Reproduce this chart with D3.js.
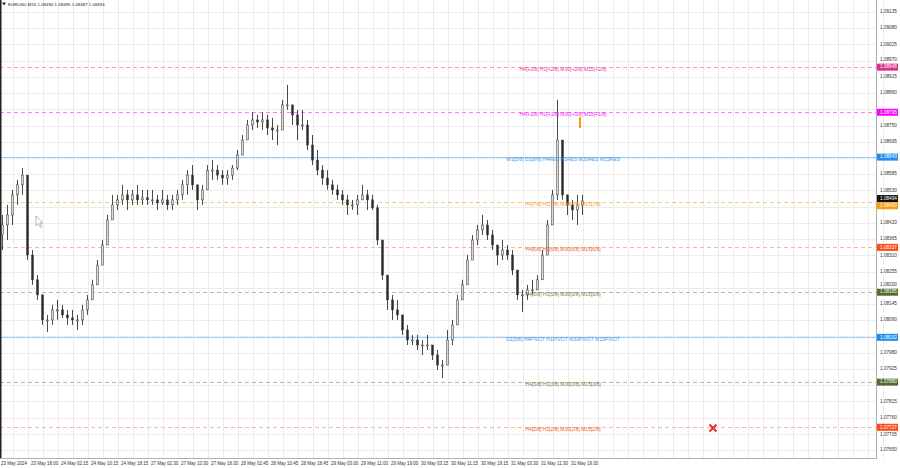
<!DOCTYPE html>
<html><head><meta charset="utf-8">
<script src="https://cdn.jsdelivr.net/npm/d3@7"></script>
<style>
html,body{margin:0;padding:0;background:#fff;}
svg{display:block;font-family:"Liberation Sans",Arial,sans-serif;}
</style></head><body>
<svg id="c" width="900" height="468"></svg>
<script>
// ---------------- data ----------------
const symbolTitle = "EURUSD,M15";
const ohlcNow = ["1.08490", "1.08495", "1.08487", "1.08494"];
const currentPrice = 1.08494;
const firstOpen = 1.08380;

const highs = [1.08447,1.08481,1.08532,1.08566,1.08606,1.08582,1.08328,1.08243,1.08176,1.08108,
1.08142,1.08159,1.08142,1.08125,1.08125,1.08108,1.08142,1.08176,1.08227,1.08294,
1.08362,1.08447,1.08515,1.08515,1.08549,1.08532,1.08532,1.08549,1.08532,1.08532,
1.08532,1.08515,1.08532,1.08515,1.08515,1.08532,1.08566,1.08599,1.08616,1.08549,
1.08549,1.08616,1.08633,1.08616,1.08599,1.08599,1.08616,1.08667,1.08718,1.08769,
1.08796,1.08786,1.08796,1.08786,1.08776,1.08752,1.08837,1.08888,1.08820,1.08803,
1.08803,1.08769,1.08718,1.08667,1.08616,1.08599,1.08566,1.08549,1.08532,1.08515,
1.08498,1.08515,1.08549,1.08532,1.08515,1.08481,1.08362,1.08243,1.08176,1.08159,
1.08108,1.08074,1.08040,1.08040,1.08023,1.08040,1.08006,1.07989,1.07955,1.08057,
1.08091,1.08176,1.08227,1.08311,1.08379,1.08413,1.08447,1.08430,1.08396,1.08345,
1.08362,1.08345,1.08328,1.08260,1.08193,1.08210,1.08227,1.08243,1.08328,1.08430,
1.08532,1.08837,1.08701,1.08515,1.08498,1.08515,1.08515];

const lows = [1.08328,1.08362,1.08413,1.08481,1.08515,1.08294,1.08210,1.08159,1.08074,1.08050,
1.08074,1.08091,1.08098,1.08074,1.08074,1.08057,1.08074,1.08108,1.08159,1.08210,
1.08277,1.08345,1.08430,1.08464,1.08481,1.08464,1.08481,1.08481,1.08481,1.08481,
1.08481,1.08464,1.08481,1.08464,1.08464,1.08481,1.08498,1.08515,1.08532,1.08464,
1.08481,1.08532,1.08566,1.08566,1.08549,1.08549,1.08566,1.08599,1.08650,1.08701,
1.08735,1.08742,1.08735,1.08718,1.08701,1.08684,1.08735,1.08803,1.08752,1.08701,
1.08735,1.08667,1.08616,1.08582,1.08549,1.08532,1.08515,1.08498,1.08481,1.08447,
1.08464,1.08447,1.08498,1.08464,1.08464,1.08345,1.08227,1.08125,1.08091,1.08091,
1.08040,1.08006,1.08006,1.07989,1.07972,1.07989,1.07955,1.07921,1.07894,1.07938,
1.08006,1.08074,1.08159,1.08210,1.08294,1.08345,1.08379,1.08362,1.08328,1.08277,
1.08294,1.08294,1.08243,1.08159,1.08118,1.08159,1.08176,1.08193,1.08227,1.08311,
1.08413,1.08498,1.08498,1.08447,1.08430,1.08413,1.08447];

const closes = [1.08413,1.08447,1.08515,1.08549,1.08582,1.08311,1.08227,1.08176,1.08091,1.08091,
1.08125,1.08125,1.08108,1.08098,1.08091,1.08091,1.08125,1.08159,1.08210,1.08277,
1.08345,1.08430,1.08481,1.08498,1.08515,1.08498,1.08515,1.08498,1.08505,1.08498,
1.08498,1.08488,1.08498,1.08481,1.08498,1.08515,1.08549,1.08582,1.08549,1.08498,
1.08532,1.08599,1.08599,1.08582,1.08572,1.08582,1.08606,1.08650,1.08701,1.08752,
1.08769,1.08762,1.08769,1.08742,1.08735,1.08735,1.08820,1.08820,1.08786,1.08752,
1.08752,1.08684,1.08633,1.08599,1.08572,1.08549,1.08532,1.08515,1.08498,1.08481,
1.08481,1.08498,1.08515,1.08498,1.08471,1.08362,1.08243,1.08159,1.08125,1.08108,
1.08057,1.08023,1.08023,1.08006,1.08006,1.08006,1.07972,1.07938,1.07938,1.08023,
1.08074,1.08159,1.08210,1.08294,1.08362,1.08396,1.08413,1.08379,1.08345,1.08311,
1.08328,1.08311,1.08260,1.08176,1.08176,1.08193,1.08193,1.08227,1.08311,1.08413,
1.08515,1.08701,1.08515,1.08481,1.08464,1.08481,1.08494];

const timeLabels = ["23 May 2024","23 May 18:00","24 May 02:15","24 May 10:15","24 May 18:15",
"27 May 02:30","27 May 10:30","27 May 18:30","28 May 02:45","28 May 10:45","28 May 18:45",
"29 May 03:00","29 May 11:00","29 May 19:00","30 May 03:15","30 May 11:15","30 May 19:15",
"31 May 03:30","31 May 11:30","31 May 19:30"];

const priceTicks = [1.09135,1.09080,1.09025,1.08970,1.08915,1.08860,1.08805,1.08750,1.08695,1.08640,
1.08585,1.08530,1.08475,1.08420,1.08365,1.08310,1.08255,1.08200,1.08145,1.08090,1.08035,
1.07980,1.07925,1.07870,1.07815,1.07760,1.07705,1.07650];

const levelValues = [1.08948,1.08795,1.08643,1.08490,1.08337,1.08185,1.08032,1.07880,1.07727];
const levelTexts = ["H4[+2/8] H1[+2/8] M30[+2/8] M15[+2/8]",
"H4[+1/8] H1[+1/8] M30[+1/8] M15[+1/8]",
"W1[5/8] D1[8/8] H4RES H1RES M30RES M15RES",
"H4[7/8] H1[7/8] M30[7/8] M15[7/8]",
"H4[6/8] H1[6/8] M30[6/8] M15[6/8]",
"H4[5/8] H1[5/8] M30[5/8] M15[5/8]",
"D1[5/8] H4PIVOT H1PIVOT M30PIVOT M15PIVOT",
"H4[3/8] H1[3/8] M30[3/8] M15[3/8]",
"H4[2/8] H1[2/8] M30[2/8] M15[2/8]"];

// styles (separate from data)
const levelStyles = [
 {line:"#f59bd0", dash:"4,3", text:"#e0409a", box:"#d9308c"},
 {line:"#ff7cff", dash:"4,3", text:"#f020f0", box:"#ff00ff"},
 {line:"#9fcdfb", dash:null,  text:"#3d9bf0", box:"#1e8ff0"},
 {line:"#ffc878", dash:"4,3", text:"#f0a030", box:"#ff9a10"},
 {line:"#ffb49c", dash:"4,3", text:"#f05a28", box:"#ff4a14"},
 {line:"#b4bca4", dash:"4,3", text:"#6b7f45", box:"#56692f"},
 {line:"#9fcdfb", dash:null,  text:"#3d9bf0", box:"#1e8ff0"},
 {line:"#b4bca4", dash:"4,3", text:"#6b7f45", box:"#56692f"},
 {line:"#ffb49c", dash:"4,3", text:"#f05a28", box:"#ff4a14"}
];

// ---------------- drawing ----------------
const svg = d3.select("#c");
const axisX = 876, axisY = 458;
const y = d3.scaleLinear().domain([1.07650, 1.09135]).range([450, 12]);
const x = d3.scaleLinear().domain([0, 1]).range([2, 7]);

// grid
const grid = svg.append("g");
grid.selectAll("line.h").data(priceTicks).join("line")
  .attr("x1", 0).attr("x2", axisX).attr("y1", d => Math.round(y(d)) + 0.5).attr("y2", d => Math.round(y(d)) + 0.5)
  .attr("stroke", "#ececec").attr("stroke-width", 1);
grid.selectAll("line.v").data(d3.range(0, 59)).join("line")
  .attr("x1", k => 13.5 + 15 * k).attr("x2", k => 13.5 + 15 * k)
  .attr("y1", 0).attr("y2", axisY)
  .attr("stroke", "#ececec").attr("stroke-width", 1);

// level lines
const lv = svg.append("g");
levelValues.forEach((v, i) => {
  const yy = Math.round(y(v)) + 0.5, st = levelStyles[i];
  lv.append("line").attr("x1", 0).attr("x2", axisX).attr("y1", yy).attr("y2", yy)
    .attr("stroke", st.line).attr("stroke-width", 1)
    .attr("stroke-dasharray", st.dash);
});

// candles
const opens = closes.map((c, i) => i === 0 ? firstOpen : closes[i - 1]);
const cg = svg.append("g");
highs.forEach((h, i) => {
  const cx = Math.round(x(i)) + 0.5;
  cg.append("line").attr("x1", cx).attr("x2", cx)
    .attr("y1", y(h)).attr("y2", y(lows[i]))
    .attr("stroke", "#4a4a4a").attr("stroke-width", 1);
  const o = opens[i], c = closes[i];
  const top = y(Math.max(o, c)), bot = y(Math.min(o, c));
  cg.append("rect").attr("x", cx - 1).attr("width", 2)
    .attr("y", top).attr("height", Math.max(1, bot - top))
    .attr("fill", c >= o ? "#d8d8d8" : "#2a2a2a")
    .attr("stroke", "#3a3a3a").attr("stroke-width", 0.5);
});

// level texts
levelValues.forEach((v, i) => {
  svg.append("text").attr("x", 563).attr("y", y(v) + 2.6)
    .attr("text-anchor", "middle").attr("dominant-baseline", "middle")
    .attr("font-size", 5).attr("fill", levelStyles[i].text)
    .text(levelTexts[i]);
});

// marks
svg.append("rect").attr("x", 579).attr("y", 117).attr("width", 2).attr("height", 11).attr("fill", "#f0a000");
const rx = 713, ry = 428;
svg.append("path").attr("d", `M${rx-3.5},${ry-3.5}L${rx+3.5},${ry+3.5}M${rx+3.5},${ry-3.5}L${rx-3.5},${ry+3.5}`)
  .attr("stroke", "#e8312a").attr("stroke-width", 2);
svg.append("path").attr("d", "M36,216 L36,226 L38.5,223.5 L40.5,227.5 L41.8,226.8 L39.8,223 L43,223 Z")
  .attr("fill", "#fff").attr("stroke", "#888").attr("stroke-width", 0.6);

// frame
svg.append("rect").attr("x", 0).attr("y", 0).attr("width", 1.5).attr("height", axisY).attr("fill", "#222");
svg.append("line").attr("x1", axisX + 0.5).attr("x2", axisX + 0.5).attr("y1", 0).attr("y2", axisY + 1)
  .attr("stroke", "#b0b0b0");
svg.append("line").attr("x1", 0).attr("x2", axisX + 1).attr("y1", axisY + 0.5).attr("y2", axisY + 0.5)
  .attr("stroke", "#b0b0b0");

// right axis: box positions first, then tick labels that do not collide
const boxes = levelValues.map((v, i) => ({v, yy: y(v), fill: levelStyles[i].box}));
boxes[3].yy = y(levelValues[3]) + 3.5;
boxes.push({v: currentPrice, yy: y(currentPrice) - 2.5, fill: "#111"});

const ax = svg.append("g");
const shownTicks = [];
priceTicks.forEach(t => {
  let ty = y(t);
  const near = boxes.map(b => ty - b.yy).filter(dd => Math.abs(dd) < 7.5);
  if (near.some(dd => Math.abs(dd) < 3)) return;          // hidden behind a box
  if (near.length) { const dd = near[0]; ty = dd < 0 ? ty - (7.5 + dd) : ty + (7.5 - dd); }
  shownTicks.push({t, ty});
});
ax.selectAll("text.tick").data(shownTicks).join("text")
  .attr("x", 880).attr("y", d => d.ty).attr("dominant-baseline", "middle")
  .attr("font-size", 4.7).attr("fill", "#333")
  .text(d => d.t.toFixed(5));

boxes.forEach(b => {
  ax.append("rect").attr("x", 877).attr("y", b.yy - 3.5).attr("width", 21).attr("height", 7).attr("fill", b.fill);
  ax.append("text").attr("x", 880).attr("y", b.yy).attr("dominant-baseline", "middle")
    .attr("font-size", 4.7).attr("fill", "#fff").text(b.v.toFixed(5));
});

// bottom time labels
svg.append("g").selectAll("text").data(timeLabels).join("text")
  .attr("x", (d, k) => x(6 * k) - 1).attr("y", 463.5).attr("dominant-baseline", "middle")
  .attr("font-size", 4.5).attr("fill", "#333").text(d => d);

// header
svg.append("path").attr("d", "M2,2.5 L6,2.5 L4,5.5 Z").attr("fill", "#222");
svg.append("text").attr("x", 8).attr("y", 4.5).attr("dominant-baseline", "middle")
  .attr("font-size", 4.4).attr("fill", "#222")
  .text(symbolTitle + "  " + ohlcNow.join(" "));
</script>
</body></html>
